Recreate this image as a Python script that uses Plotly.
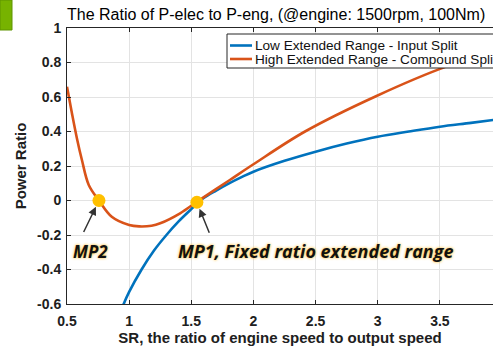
import plotly.graph_objects as go

# ---- data ----
blue_x = [0.95, 1.0, 1.1, 1.2, 1.3, 1.4, 1.5, 1.55, 1.6, 1.7, 1.8, 1.9, 2.0, 2.25, 2.5, 2.75, 3.0, 3.25, 3.5, 3.75, 3.93]
blue_y = [-0.61, -0.53, -0.40, -0.29, -0.20, -0.12, -0.05, -0.015, 0.015, 0.058, 0.098, 0.134, 0.167, 0.23, 0.283, 0.33, 0.37, 0.40, 0.428, 0.45, 0.467]

orange_x = [0.5, 0.54, 0.58, 0.62, 0.675, 0.757, 0.86, 1.0, 1.08, 1.18, 1.25, 1.41, 1.55, 1.81, 2.0, 2.415, 2.99, 3.55, 3.93]
orange_y = [0.66, 0.505, 0.36, 0.235, 0.09, 0.0, -0.094, -0.142, -0.15, -0.146, -0.132, -0.074, -0.005, 0.119, 0.21, 0.40, 0.606, 0.776, 0.86]

mp_x = [0.757, 1.545]
mp_y = [0.0, -0.01]
mp_labels = ["MP2", "MP1, Fixed ratio extended range"]

series_names = ["Low Extended Range - Input Split", "High Extended Range - Compound Split"]
x_ticks = [0.5, 1, 1.5, 2, 2.5, 3, 3.5]
y_ticks = [-0.6, -0.4, -0.2, 0, 0.2, 0.4, 0.6, 0.8, 1]
y_ticklabels = ["-0.6", "-0.4", "-0.2", "0", "0.2", "0.4", "0.6", "0.8", "1"]

BLUE = "#0072BD"
ORANGE = "#D95319"
YELLOW = "#FFC000"
DARK = "#202020"
FONT = "Liberation Sans"

W, H = 493, 347
L, R, T, B = 67, 0, 28, 43
pw, ph = W - L - R, H - T - B

def px2paper_x(px):
    return (px - L) / pw

def px2paper_y(py):
    return (H - B - py) / ph

fig = go.Figure()
fig.add_trace(go.Scatter(x=blue_x, y=blue_y, mode="lines", line=dict(color=BLUE, width=2.6, shape="spline"),
                         name=series_names[0], showlegend=False))
fig.add_trace(go.Scatter(x=orange_x, y=orange_y, mode="lines", line=dict(color=ORANGE, width=2.6, shape="spline"),
                         name=series_names[1], showlegend=False))
fig.add_trace(go.Scatter(x=mp_x, y=mp_y, mode="markers", marker=dict(color=YELLOW, size=13, line=dict(width=0)),
                         showlegend=False))

# arrows + labels for MP points
arrow_tails = [(-16, 33), (13, 32)]
text_shifts = [(-8, -51), (119, -49)]
text_sizes = [17, 18]
for i in range(2):
    fig.add_annotation(x=mp_x[i], y=mp_y[i], xref="x", yref="y", text="", showarrow=True,
                       ax=arrow_tails[i][0], ay=arrow_tails[i][1], arrowhead=2, arrowsize=1.1,
                       arrowwidth=1.5, arrowcolor="#333333", standoff=7)
    fig.add_annotation(x=mp_x[i], y=mp_y[i], xref="x", yref="y", text=mp_labels[i], showarrow=False,
                       xshift=text_shifts[i][0], yshift=text_shifts[i][1],
                       font=dict(family="Open Sans", size=text_sizes[i], color="#111111", weight="bold",
                                 style="italic", shadow="0px 0px 3px #FFB000"))

# manual legend box
fig.add_shape(type="rect", xref="paper", yref="paper",
              x0=px2paper_x(227), x1=px2paper_x(520), y0=px2paper_y(68), y1=px2paper_y(34),
              fillcolor="white", line=dict(color="#262626", width=1), layer="above")
for i, (col, yy) in enumerate([(BLUE, 45.5), (ORANGE, 59)]):
    fig.add_shape(type="line", xref="paper", yref="paper",
                  x0=px2paper_x(230), x1=px2paper_x(252), y0=px2paper_y(yy), y1=px2paper_y(yy),
                  line=dict(color=col, width=2.6), layer="above")
    fig.add_annotation(xref="paper", yref="paper", x=px2paper_x(253), y=px2paper_y(yy), text=series_names[i],
                       showarrow=False, xanchor="left", yanchor="middle",
                       font=dict(family=FONT, size=13.6, color="#111111"))

# green decoration at top-left
fig.add_shape(type="rect", xref="paper", yref="paper",
              x0=px2paper_x(0), x1=px2paper_x(12), y0=px2paper_y(30), y1=px2paper_y(0),
              fillcolor="#77B300", line=dict(color="#5E9400", width=1), layer="above")

fig.update_layout(
    width=W, height=H,
    margin=dict(l=L, r=R, t=T, b=B),
    paper_bgcolor="white", plot_bgcolor="white",
    title=dict(text="The Ratio of P-elec to P-eng, (@engine: 1500rpm, 100Nm)",
               x=67 / W, xanchor="left", xref="container", y=1 - 14 / H, yanchor="middle",
               font=dict(family=FONT, size=16, color="#000000")),
    font=dict(family=FONT, color=DARK),
)
fig.update_xaxes(range=[0.5, 0.5 + pw / 124.3], tickvals=x_ticks,
                 showgrid=True, gridcolor="#E3E3E3", gridwidth=1, zeroline=False,
                 showline=True, linecolor="#262626", linewidth=1, mirror="ticks",
                 ticks="inside", ticklen=4, tickcolor="#262626",
                 tickfont=dict(family=FONT, size=14, color=DARK, weight="bold"), ticklabelstandoff=4,
                 title=dict(text="<b>SR, the ratio of engine speed to output speed</b>",
                            font=dict(family=FONT, size=15, color=DARK), standoff=2))
fig.update_yaxes(range=[-0.6, 1], tickvals=y_ticks, ticktext=y_ticklabels,
                 showgrid=True, gridcolor="#E3E3E3", gridwidth=1, zeroline=False,
                 showline=True, linecolor="#262626", linewidth=1, mirror=False,
                 ticks="inside", ticklen=4, tickcolor="#262626",
                 tickfont=dict(family=FONT, size=14, color=DARK, weight="bold"), ticklabelstandoff=2,
                 title=dict(text="<b>Power Ratio</b>", font=dict(family=FONT, size=15, color=DARK), standoff=6))

fig.write_html("out.html", config={"displayModeBar": False},
               post_script="document.body.style.margin='0';document.body.style.overflow='hidden';")
